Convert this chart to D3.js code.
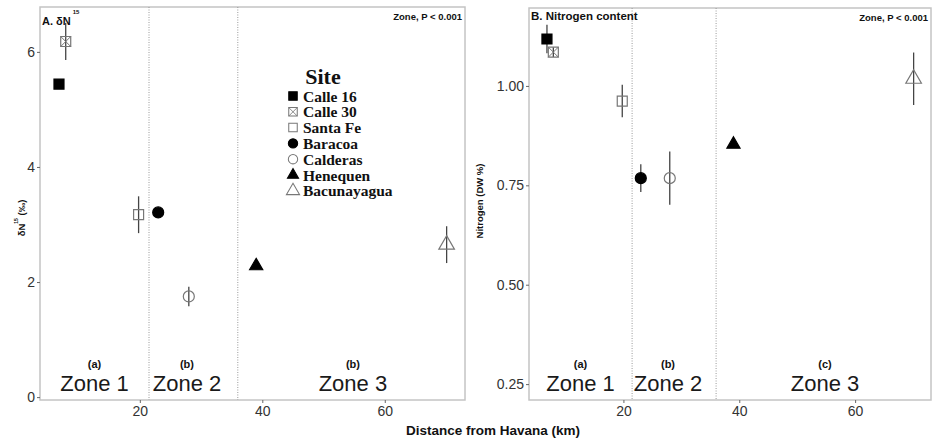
<!DOCTYPE html>
<html>
<head>
<meta charset="utf-8">
<script src="https://cdn.jsdelivr.net/npm/d3@7"></script>
<style>
  body { margin: 0; background: #fff; }
  svg { display: block; }
  .tick-label { font-family: "Liberation Sans", Arial, sans-serif; font-size: 14px; fill: #333; }
  .bold { font-family: "Liberation Sans", Arial, sans-serif; font-weight: bold; fill: #111; }
  .zone { font-family: "Liberation Sans", Arial, sans-serif; font-size: 22px; fill: #1a1a1a; }
  .legend { font-family: "Liberation Serif", "Times New Roman", serif; font-weight: bold; fill: #111; }
</style>
</head>
<body>
<div id="chart"></div>
<script>
// Sites and their distance from Havana
const sites = ['Calle 16', 'Calle 30', 'Santa Fe', 'Baracoa', 'Calderas', 'Henequen', 'Bacunayagua']
const distance = [6.8, 7.9, 19.8, 23.0, 28.0, 39.0, 70.1]

// Panel A: d15N (mean and error)
const d15N = [5.44, 6.18, 3.17, 3.21, 1.75, 2.28, 2.65]
const d15NErr = [0.04, 0.32, 0.32, 0.05, 0.17, 0.04, 0.32]

// Panel B: nitrogen content (DW %)
const nitrogen = [1.118, 1.085, 0.962, 0.768, 0.768, 0.853, 1.018]
const nitrogenErr = [0.036, 0.012, 0.041, 0.035, 0.067, 0.008, 0.066]

// Zones
const zoneBreaks = [21.5, 36]
const zoneNames = ['Zone 1', 'Zone 2', 'Zone 3']
const zoneCenters = [12.6, 27.7, 54.8]
const lettersA = ['(a)', '(b)', '(b)']
const lettersB = ['(a)', '(b)', '(c)']

// Ticks
const xTicks = [20, 40, 60]
const yTicksA = [0, 2, 4, 6]
const yTicksB = [0.25, 0.50, 0.75, 1.00]

// Marker style per site
const markerType = ['fsquare', 'xsquare', 'osquare', 'fcircle', 'ocircle', 'ftriangle', 'otriangle']

const width = 932
const height = 439

const svg = d3.select('#chart')
  .append('svg')
  .attr('width', width)
  .attr('height', height)

function marker(g, type) {
  const filled = type[0] === 'f'
  const fill = filled ? '#000' : 'none'
  const stroke = filled ? '#000' : '#777'
  let shape = d3.symbolSquare, size = 100
  if (type.endsWith('circle')) { shape = d3.symbolCircle; size = 95 }
  if (type.endsWith('triangle')) { shape = d3.symbolTriangle; size = type === 'otriangle' ? 105 : 75 }
  g.append('path')
    .attr('d', d3.symbol(shape, size)())
    .attr('fill', fill)
    .attr('stroke', stroke)
    .attr('stroke-width', 1.2)
  if (type === 'xsquare') {
    g.append('path')
      .attr('d', 'M-5,-5L5,5M5,-5L-5,5')
      .attr('stroke', stroke)
      .attr('stroke-width', 1)
  }
}

function drawPanel(opt) {
  const x = d3.scaleLinear().domain([3.7, 73.1]).range([opt.left, opt.right])
  const y = d3.scaleLinear().domain(opt.yDomain).range([opt.bottom, opt.top])
  const g = svg.append('g')

  // frame
  g.append('rect')
    .attr('x', opt.left).attr('y', opt.top)
    .attr('width', opt.right - opt.left).attr('height', opt.bottom - opt.top)
    .attr('fill', 'none').attr('stroke', '#c4c4c4').attr('stroke-width', 1.5)

  // zone dividers
  g.selectAll('.divider').data(zoneBreaks).enter().append('line')
    .attr('x1', d => x(d)).attr('x2', d => x(d))
    .attr('y1', opt.top).attr('y2', opt.bottom)
    .attr('stroke', '#999').attr('stroke-width', 1).attr('stroke-dasharray', '1,1.5')

  // axes
  const xAxis = g.append('g')
    .attr('transform', `translate(0,${opt.bottom})`)
    .call(d3.axisBottom(x).tickValues(xTicks).tickSize(3).tickPadding(3))
  const yAxis = g.append('g')
    .attr('transform', `translate(${opt.left},0)`)
    .call(d3.axisLeft(y).tickValues(opt.yTicks).tickSize(3).tickPadding(2).tickFormat(opt.fmt))
  ;[xAxis, yAxis].forEach(a => {
    a.select('.domain').remove()
    a.selectAll('.tick line').attr('stroke', '#666')
    a.selectAll('.tick text').attr('class', 'tick-label').attr('fill', null)
    a.attr('font-size', null).attr('font-family', null)
  })

  // zone labels
  g.selectAll('.zone').data(zoneNames).enter().append('text')
    .attr('class', 'zone')
    .attr('x', (d, i) => x(zoneCenters[i]))
    .attr('y', opt.bottom - 9)
    .attr('text-anchor', 'middle')
    .text(d => d)
  g.selectAll('.letter').data(opt.letters).enter().append('text')
    .attr('class', 'bold')
    .attr('font-size', 11)
    .attr('x', (d, i) => x(zoneCenters[i]))
    .attr('y', opt.bottom - 32)
    .attr('text-anchor', 'middle')
    .text(d => d)

  // error bars
  g.selectAll('.err').data(sites).enter().append('line')
    .attr('x1', (d, i) => x(distance[i])).attr('x2', (d, i) => x(distance[i]))
    .attr('y1', (d, i) => y(opt.values[i] - opt.errors[i]))
    .attr('y2', (d, i) => y(opt.values[i] + opt.errors[i]))
    .attr('stroke', '#444').attr('stroke-width', 1.3)

  // points
  sites.forEach((s, i) => {
    const p = g.append('g')
      .attr('transform', `translate(${x(distance[i])},${y(opt.values[i])})`)
    marker(p, markerType[i])
  })

  // p-value note
  g.append('text')
    .attr('class', 'bold').attr('font-size', 9.5)
    .attr('x', opt.right - 3).attr('y', opt.top + 13)
    .attr('text-anchor', 'end')
    .text('Zone, P < 0.001')

  return { x, y }
}

// Panel A
drawPanel({
  left: 40, right: 465, top: 7, bottom: 400,
  yDomain: [-0.05, 6.78], yTicks: yTicksA, fmt: d3.format('d'),
  values: d15N, errors: d15NErr, letters: lettersA
})
const titleA = svg.append('text').attr('class', 'bold').attr('font-size', 11)
  .attr('x', 42).attr('y', 25)
titleA.append('tspan').text('A. δN')
titleA.append('tspan').attr('font-size', 6).attr('dy', -11).attr('dx', 2).text('15')

const yTitleA = svg.append('text').attr('class', 'bold').attr('font-size', 9.5)
  .attr('transform', 'translate(25,218) rotate(-90)')
  .attr('text-anchor', 'middle')
yTitleA.append('tspan').text('δN')
yTitleA.append('tspan').attr('font-size', 5).attr('dy', -7).text('15')
yTitleA.append('tspan').attr('dy', 7).text('  (‰)')

// Panel B
drawPanel({
  left: 529, right: 931, top: 8, bottom: 400,
  yDomain: [0.21, 1.196], yTicks: yTicksB, fmt: d3.format('.2f'),
  values: nitrogen, errors: nitrogenErr, letters: lettersB
})
svg.append('text').attr('class', 'bold').attr('font-size', 11.5)
  .attr('x', 531).attr('y', 20)
  .text('B. Nitrogen content')

svg.append('text').attr('class', 'bold').attr('font-size', 9.5)
  .attr('transform', 'translate(483,201) rotate(-90)')
  .attr('text-anchor', 'middle')
  .text('Nitrogen (DW %)')

// shared x title
svg.append('text').attr('class', 'bold')
  .attr('font-size', 13.5)
  .attr('font-family', '"Open Sans", sans-serif')
  .attr('x', 493).attr('y', 435)
  .attr('text-anchor', 'middle')
  .text('Distance from Havana (km)')

// Legend
const legend = svg.append('g').attr('transform', 'translate(293,0)')
legend.append('text').attr('class', 'legend').attr('font-size', 22)
  .attr('x', 30).attr('y', 84).attr('text-anchor', 'middle').text('Site')
sites.forEach((s, i) => {
  const yy = 96 + i * 15.8
  const m = legend.append('g').attr('transform', `translate(0,${yy}) scale(0.85)`)
  marker(m, markerType[i])
  legend.append('text').attr('class', 'legend').attr('font-size', 15.5)
    .attr('x', 10).attr('y', yy + 5.5).text(s)
})
</script>
</body>
</html>
